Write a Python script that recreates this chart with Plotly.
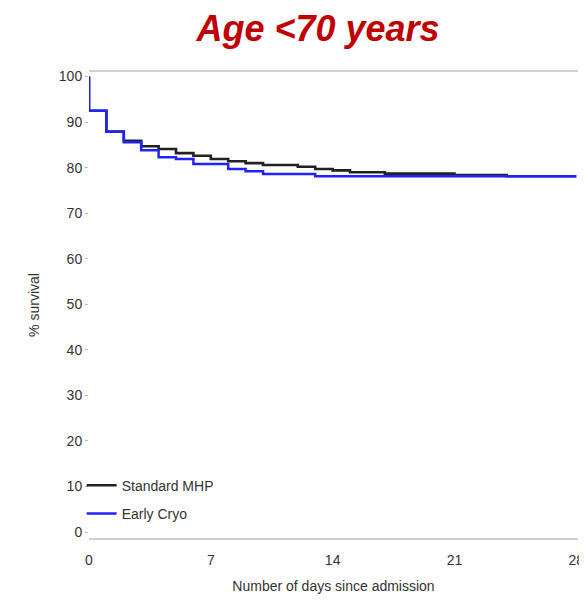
import plotly.graph_objects as go

# Standard MHP (black) Kaplan-Meier steps
std_days = [0, 0, 1, 2, 3, 4, 5, 6, 7, 8, 9, 10, 12, 13, 14, 15, 17, 21, 24, 28]
std_surv = [100, 92.5, 87.9, 85.9, 84.7, 84.1, 83.2, 82.6, 81.9, 81.4, 81.0, 80.6, 80.2, 79.7, 79.4, 79.0, 78.7, 78.4, 78.1, 78.1]

# Early Cryo (blue)
cryo_days = [0, 0, 1, 2, 3, 4, 5, 6, 8, 9, 10, 13, 28]
cryo_surv = [100, 92.5, 87.9, 85.6, 83.8, 82.3, 81.9, 80.8, 79.7, 79.2, 78.6, 78.1, 78.1]

x_ticks = [0, 7, 14, 21, 28]
y_ticks = [0, 10, 20, 30, 40, 50, 60, 70, 80, 90, 100]

W, H = 579, 586  # page body has an 8px margin

fig = go.Figure()
fig.add_trace(go.Scatter(x=std_days, y=std_surv, mode="lines", line_shape="hv",
                         name="Standard MHP", legendgroup="a",
                         line=dict(color="#222222", width=2.6)))
fig.add_trace(go.Scatter(x=cryo_days, y=cryo_surv, mode="lines", line_shape="hv",
                         name="Early Cryo", legendgroup="b",
                         line=dict(color="#2222ff", width=2.5)))

fig.update_layout(
    width=W, height=H,
    margin=dict(l=81, r=9, t=64, b=56, autoexpand=False),
    paper_bgcolor="white", plot_bgcolor="white",
    font=dict(family="Liberation Sans, Arial, sans-serif", size=14, color="#333"),
    title=dict(text="<b><i>Age &lt;70 years</i></b>", x=310 / W, xanchor="center",
               y=1 - 20 / H, yanchor="middle", yref="container",
               font=dict(family="Liberation Sans, Arial, sans-serif", size=36, color="#C00000")),
    xaxis=dict(range=[0, 28.1], tickvals=x_ticks, showgrid=False, zeroline=False,
               showline=True, linecolor="#d0d0d0", linewidth=1.5, mirror=True,
               ticks="", ticklabelstandoff=8, automargin=False,
               tickfont=dict(size=14, color="#333"),
               title=dict(text="Number of days since admission", font=dict(size=14, color="#333"), standoff=31)),
    yaxis=dict(range=[-1.3, 101], tickvals=y_ticks, showgrid=False, zeroline=False,
               showline=False, ticks="outside", ticklen=3, tickcolor="#bbb", automargin=False,
               tickfont=dict(size=14, color="#333"),
               title=dict(text="% survival", font=dict(size=14, color="#333"), standoff=15)),
    legend=dict(x=-0.015, y=0.018, xanchor="left", yanchor="bottom",
                bgcolor="rgba(0,0,0,0)", traceorder="grouped", tracegroupgap=7,
                font=dict(size=14, color="#333")),
    showlegend=True,
)

fig.write_html("out.html")
